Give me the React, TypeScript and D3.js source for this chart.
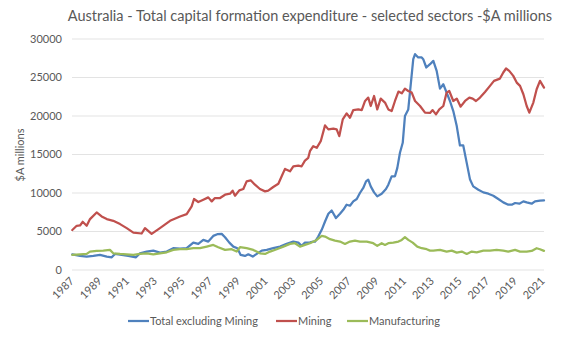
import React from "react";
import * as d3 from "d3";

const title = "Australia - Total capital formation expenditure - selected sectors -$A millions";
const yAxisTitle = "$A millions";
const yTicks = [0, 5000, 10000, 15000, 20000, 25000, 30000];
const xTickYears = d3.range(1987, 2022, 2);

const seriesNames = ["Total excluding Mining", "Mining", "Manufacturing"];
const seriesColors = ["#4F81BD", "#C0504D", "#9BBB59"];

const totalExMiningYears = [1987.02,1987.58,1988.06,1988.54,1989.02,1989.51,1989.87,1990.10,1990.59,1991.06,1991.62,1991.91,1992.39,1992.87,1993.35,1993.84,1994.31,1994.80,1995.28,1995.76,1996.12,1996.48,1996.84,1997.20,1997.49,1997.81,1998.05,1998.36,1998.65,1998.94,1999.18,1999.49,1999.73,2000.05,2000.34,2000.70,2001.06,2001.53,2002.02,2002.50,2002.98,2003.34,2003.58,2003.82,2004.18,2004.42,2004.55,2004.78,2005.03,2005.27,2005.51,2005.75,2006.06,2006.35,2006.59,2006.83,2007.07,2007.31,2007.56,2007.79,2008.03,2008.23,2008.39,2008.57,2008.81,2009.04,2009.36,2009.67,2009.84,2010.08,2010.32,2010.49,2010.68,2010.88,2011.04,2011.28,2011.40,2011.64,2011.77,2012.00,2012.25,2012.36,2012.58,2012.85,2013.09,2013.33,2013.57,2013.81,2014.05,2014.29,2014.53,2014.78,2015.01,2015.25,2015.50,2015.74,2015.97,2016.34,2016.70,2017.06,2017.42,2017.78,2018.14,2018.50,2018.75,2018.99,2019.30,2019.59,2019.83,2020.19,2020.43,2020.79,2021.08];
const totalExMiningValues = [2040,1830,1740,1830,1960,1740,1650,2090,1960,1830,1650,2170,2390,2520,2260,2390,2830,2770,2830,3560,3390,3910,3690,4430,4650,4690,4260,3560,3040,2830,1960,1830,2040,1740,2090,2520,2610,2830,3040,3390,3690,3560,3130,3560,3600,3690,3690,4340,5220,6300,7300,7730,6740,7300,7820,8480,8350,8910,9220,10000,10650,11510,11740,10860,10080,9560,9910,10520,11080,12170,12170,13260,15220,16520,19990,20860,23040,27380,28030,27600,27600,27380,26300,26730,27160,25860,23560,24120,23040,21950,20640,18690,16170,16170,13910,11740,10860,10430,10080,9910,9650,9220,8780,8480,8480,8700,8610,8910,8780,8610,8910,9000,9040];

const miningYears = [1987.02,1987.34,1987.58,1987.77,1988.06,1988.30,1988.78,1989.14,1989.51,1989.98,1990.47,1990.95,1991.43,1992.03,1992.27,1992.75,1993.35,1994.08,1994.80,1995.28,1995.64,1995.81,1996.12,1996.48,1996.84,1997.09,1997.32,1997.69,1998.05,1998.41,1998.60,1998.77,1999.08,1999.37,1999.61,1999.90,2000.21,2000.57,2000.94,2001.17,2001.53,2001.90,2002.14,2002.38,2002.74,2002.98,2003.34,2003.58,2003.82,2004.06,2004.18,2004.42,2004.67,2004.96,2005.27,2005.51,2005.87,2006.11,2006.30,2006.55,2006.83,2007.07,2007.31,2007.67,2007.92,2008.16,2008.39,2008.57,2008.81,2009.04,2009.29,2009.60,2009.84,2010.08,2010.32,2010.57,2010.81,2011.04,2011.28,2011.53,2011.77,2012.13,2012.49,2012.85,2013.04,2013.28,2013.52,2013.81,2014.05,2014.24,2014.53,2014.78,2015.06,2015.38,2015.69,2015.93,2016.17,2016.46,2016.82,2017.18,2017.47,2017.90,2018.14,2018.34,2018.57,2018.86,2019.11,2019.35,2019.59,2019.83,2020.02,2020.31,2020.55,2020.79,2021.08];
const miningValues = [5200,5740,5780,6260,5740,6610,7470,6950,6610,6390,5960,5440,4860,4740,5440,4690,5440,6390,6950,7250,8260,9220,8830,9130,9430,8910,9350,9350,9780,9910,10300,9650,10340,10520,11510,11650,11080,10520,10210,10300,10780,11210,12170,13130,12820,13470,13560,13470,14210,14570,15430,16080,15870,16730,18780,18260,18350,18260,17390,19560,20340,19780,20770,20860,20770,21950,22390,21300,22600,20860,22260,21740,20860,20640,21950,23170,22950,23560,23250,23040,21950,21300,20430,20390,20770,20210,20860,21300,23040,23250,21950,22260,21210,21950,22390,22260,21950,22390,23120,23910,24560,24860,25650,26170,25860,25210,24340,23910,22820,21300,20430,21740,23470,24560,23690];

const manufacturingYears = [1987.02,1987.58,1988.06,1988.30,1988.78,1989.26,1989.74,1989.98,1990.47,1990.95,1991.43,1991.91,1992.39,1992.87,1993.35,1993.84,1994.31,1994.80,1995.28,1995.76,1996.24,1996.73,1997.20,1997.56,1998.05,1998.53,1998.89,1999.13,1999.61,2000.09,2000.57,2000.94,2001.30,2001.78,2002.26,2002.74,2003.10,2003.46,2003.82,2004.18,2004.67,2005.03,2005.27,2005.63,2005.99,2006.35,2006.71,2007.07,2007.43,2007.79,2008.28,2008.75,2009.04,2009.36,2009.60,2009.84,2010.20,2010.57,2010.81,2011.04,2011.28,2011.60,2011.93,2012.25,2012.61,2012.85,2013.09,2013.57,2014.05,2014.42,2014.78,2015.14,2015.50,2015.86,2016.22,2016.70,2017.18,2017.66,2018.14,2018.50,2018.99,2019.35,2019.83,2020.19,2020.55,2020.79,2021.08];
const manufacturingValues = [1960,2040,2090,2390,2480,2520,2610,2170,2090,2040,1960,2090,2170,2040,2170,2300,2610,2700,2700,2830,2830,3040,3260,2960,2610,2700,2390,2960,2830,2610,2170,2090,2390,2700,3040,3390,3480,3040,3260,3480,3910,4430,4340,4000,3820,3690,3390,3690,3820,3690,3690,3480,3130,3480,3260,3480,3560,3690,3910,4260,3910,3560,3040,2830,2700,2520,2520,2610,2390,2520,2260,2390,2090,2390,2300,2520,2520,2610,2520,2390,2610,2390,2390,2480,2830,2700,2480];

const allYears = [totalExMiningYears, miningYears, manufacturingYears];
const allValues = [totalExMiningValues, miningValues, manufacturingValues];

const W = 565;
const H = 339;
const plotLeft = 72;
const plotRight = 544;
const plotTop = 39;
const plotBottom = 270;
const textColor = "#595959";
const font = "Lato, 'Open Sans', sans-serif";

export default function App() {
  const x = d3.scaleLinear().domain([1987, 2021.08]).range([plotLeft, plotRight]);
  const y = d3.scaleLinear().domain([0, 30000]).range([plotBottom, plotTop]);
  const line = d3
    .line<[number, number]>()
    .x((d) => x(d[0]))
    .y((d) => y(d[1]));

  const legendItems = [
    { lineX: 128, textX: 150 },
    { lineX: 276, textX: 298 },
    { lineX: 347, textX: 369 },
  ];

  return (
    <svg width={W} height={H} style={{ position: "absolute", left: 0, top: 0, background: "#fff" }} fontFamily={font}>
      <rect x={0} y={0} width={W} height={H} fill="#fff" />
      <text x={310} y={21} textAnchor="middle" fontSize={14.5} fill={textColor}>
        {title}
      </text>
      {yTicks.map((t) => (
        <g key={t}>
          <line x1={plotLeft} x2={plotRight} y1={y(t)} y2={y(t)} stroke="#D9D9D9" strokeWidth={0.75} />
          <text x={62} y={y(t)} dy="0.35em" textAnchor="end" fontSize={11} fill={textColor}>
            {t}
          </text>
        </g>
      ))}
      <text
        transform={`translate(24, 155) rotate(-90)`}
        textAnchor="middle"
        fontSize={11}
        fill={textColor}
      >
        {yAxisTitle}
      </text>
      {xTickYears.map((yr) => (
        <text
          key={yr}
          transform={`translate(${x(yr)}, 279) rotate(-45)`}
          textAnchor="end"
          dy="0.35em"
          fontSize={11}
          fill={textColor}
        >
          {yr}
        </text>
      ))}
      {allYears.map((yrs, i) => {
        const pts = yrs.map((yr, j) => [yr, allValues[i][j]] as [number, number]);
        return (
          <path
            key={i}
            d={line(pts) || ""}
            fill="none"
            stroke={seriesColors[i]}
            strokeWidth={2.25}
            strokeLinejoin="round"
            strokeLinecap="round"
          />
        );
      })}
      {seriesNames.map((name, i) => (
        <g key={name}>
          <line
            x1={legendItems[i].lineX}
            x2={legendItems[i].lineX + 21}
            y1={321}
            y2={321}
            stroke={seriesColors[i]}
            strokeWidth={2.25}
          />
          <text x={legendItems[i].textX} y={321} dy="0.35em" fontSize={11} fill={textColor}>
            {name}
          </text>
        </g>
      ))}
    </svg>
  );
}
